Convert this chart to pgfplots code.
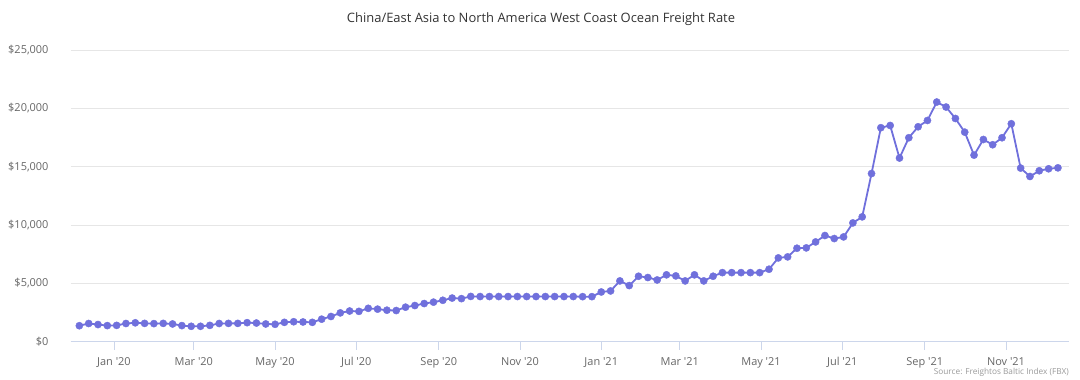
\documentclass[border=0pt]{standalone}
\usepackage{fontspec}
\setmainfont{Open Sans}
\usepackage{pgfplots}
\pgfplotsset{compat=1.18}
\definecolor{linecol}{RGB}{112,112,220}
\definecolor{gridcol}{RGB}{230,230,230}
\definecolor{axiscol}{RGB}{204,214,235}
\definecolor{labelcol}{RGB}{102,102,102}
\definecolor{titlecol}{RGB}{51,51,51}
\definecolor{srccol}{RGB}{153,153,153}
\begin{document}
\begin{tikzpicture}
\useasboundingbox (0,0) rectangle (1080bp,380bp);
\begin{axis}[
  at={(70.7bp,38.3bp)}, anchor=south west,
  scale only axis, width=998.3bp, height=291.7bp,
  xmin=-32.5, xmax=717.3, ymin=0, ymax=25000,
  scaled y ticks=false, scaled x ticks=false,
  axis x line*=bottom, axis y line*=left,
  x axis line style={draw=axiscol, line width=1bp},
  y axis line style={draw=none},
  xtick={0,60,121,182,244,305,366,425,486,547,609,670},
  xticklabels={Jan \textquotesingle20,Mar \textquotesingle20,May \textquotesingle20,Jul \textquotesingle20,Sep \textquotesingle20,Nov \textquotesingle20,Jan \textquotesingle21,Mar \textquotesingle21,May \textquotesingle21,Jul \textquotesingle21,Sep \textquotesingle21,Nov \textquotesingle21},
  ytick={0,5000,10000,15000,20000,25000},
  yticklabels={\$0,{\$5,000},{\$10,000},{\$15,000},{\$20,000},{\$25,000}},
  ymajorgrids, grid style={draw=gridcol, line width=0.8bp},
  tick align=outside, major tick length=8bp,
  xtick style={draw=axiscol, line width=0.8bp},
  ytick style={draw=none},
  tick label style={font=\fontsize{11}{13}\selectfont, text=labelcol},
  xticklabel style={anchor=base, yshift=-16bp, inner sep=0pt},
  yticklabel style={anchor=east, inner sep=0pt, xshift=-14bp},
  clip=false,
]
\addplot[color=linecol, line width=1.8bp, mark=*, mark size=3.6bp, mark options={solid, fill=linecol, draw=linecol, line width=0.4bp}] table {
x y
-26 1370
-19 1560
-12 1470
-5 1380
2 1400
9 1560
16 1620
23 1570
30 1550
37 1570
44 1520
51 1380
58 1320
65 1320
72 1400
79 1560
86 1570
93 1570
100 1630
107 1600
114 1520
121 1490
128 1660
135 1710
142 1690
149 1660
156 1930
163 2160
170 2470
177 2630
184 2600
191 2860
198 2790
205 2700
212 2670
219 2960
226 3100
233 3270
240 3390
247 3550
254 3740
261 3690
268 3880
275 3870
282 3870
289 3870
296 3870
303 3870
310 3870
317 3870
324 3870
331 3870
338 3870
345 3870
352 3860
359 3860
366 4260
373 4350
380 5210
387 4810
394 5610
401 5500
408 5290
415 5730
422 5640
429 5210
436 5730
443 5210
450 5610
457 5920
464 5920
471 5920
478 5920
485 5920
492 6210
499 7180
506 7270
513 8010
520 8040
527 8550
534 9100
541 8840
548 8980
555 10180
562 10700
569 14410
576 18340
583 18530
590 15740
597 17480
604 18420
611 18960
618 20540
625 20110
632 19130
639 17960
646 15990
653 17330
660 16880
667 17480
674 18680
681 14880
688 14160
695 14650
702 14820
709 14900
};
\end{axis}
\node[font=\fontsize{13}{15}\selectfont, text=titlecol] at (541bp,361bp) {China/East Asia to North America West Coast Ocean Freight Rate};
\node[anchor=base east, inner sep=0pt, font=\fontsize{8.3}{10}\selectfont, text=srccol] at (1069bp,6bp) {Source: Freightos Baltic Index (FBX)};
\end{tikzpicture}
\end{document}
